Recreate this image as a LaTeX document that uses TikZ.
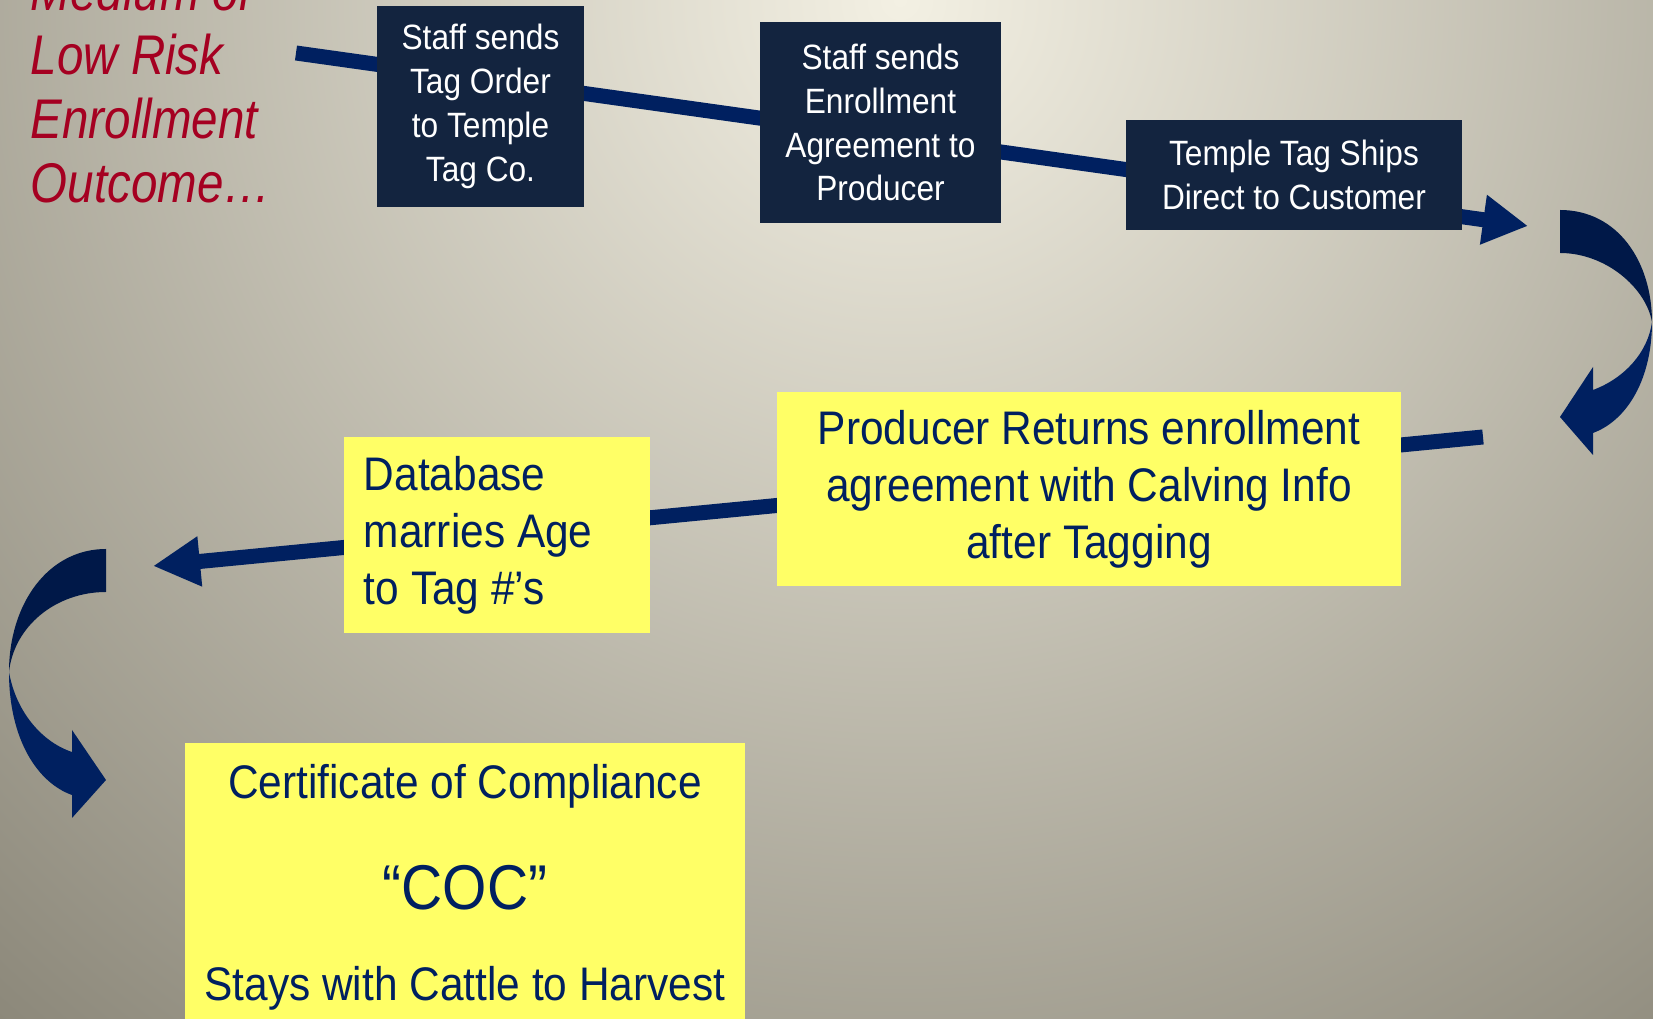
\documentclass[tikz,border=0pt]{standalone}
\usepackage{fontspec}
\usepackage{xcolor}
\usepackage{tikz}
\usetikzlibrary{arrows.meta}
\newfontfamily\slidefont[FakeStretch=0.9]{Liberation Sans}
\newfontfamily\headfont[FakeStretch=0.85]{Liberation Sans}
\definecolor{bglight}{RGB}{243,240,227}
\definecolor{bgdark}{RGB}{137,133,119}
\definecolor{boxnavy}{HTML}{13243F}
\definecolor{flownavy}{HTML}{002060}
\definecolor{flowdark}{HTML}{001848}
\definecolor{noteyellow}{HTML}{FFFF66}
\definecolor{headred}{HTML}{A50021}

\begin{document}
\begin{tikzpicture}[x=0.01cm,y=-0.01cm]
\tikzstyle{darkbox}=[fill=boxnavy, text=white, align=center, inner sep=0pt, font=\slidefont\fontsize{10}{12.5}\selectfont]
\tikzstyle{notebox}=[fill=noteyellow, text=flownavy, inner sep=0pt, font=\slidefont\fontsize{13.4}{16.2}\selectfont]
\tikzstyle{flow}=[line width=0.15cm, flownavy]
\useasboundingbox (0,0) rectangle (1653,1019);
\begin{scope}
\clip (0,0) rectangle (1653,1019);
\shade[inner color=bglight, outer color=bgdark] (900,0) circle (14cm);
\end{scope}
\coordinate (topstart) at (296,53);
\coordinate (topend) at (1528,226);
\coordinate (midstart) at (1483,437);
\coordinate (midend) at (153,566);
\draw [flow, ->, >={Triangle[length=0.45cm,width=0.47cm]}] (topstart) -- (topend);
\draw [flow, ->, >={Triangle[length=0.47cm,width=0.47cm]}] (midstart) -- (midend);
\node [font=\headfont\itshape\fontsize{15.9}{18.2}\selectfont, text=headred, align=flush left, anchor=north west, inner sep=0pt] (outcome) at (30,-31) {Medium or\\Low Risk\\Enrollment\\Outcome…};
\node [darkbox, minimum width=2.07cm, minimum height=2.01cm] (tagorder) at (480.5,106.5) {Staff sends\\Tag Order\\to Temple\\Tag Co.};
\node [darkbox, minimum width=2.41cm, minimum height=2.01cm] (agreement) at (880.5,122.5) {Staff sends\\Enrollment\\Agreement to\\Producer};
\node [darkbox, minimum width=3.36cm, minimum height=1.10cm] (ships) at (1294,175) {Temple Tag Ships\\Direct to Customer};
\node [notebox, align=center, minimum width=6.24cm, minimum height=1.94cm] (returns) at (1089,489) {Producer Returns enrollment\\agreement with Calving Info\\after Tagging};
\node [notebox, align=flush left, text width=2.66cm, inner xsep=0.2cm, minimum height=1.96cm] (database) at (497,535) {Database\\marries Age\\to Tag \#’s};
\node [notebox, align=center, minimum width=5.6cm, inner ysep=2.2mm, anchor=north] (coc) at (465,742) {Certificate of Compliance\\[15.4pt]{\fontsize{18}{21.6}\selectfont “COC”}\\[9.4pt]Stays with Cattle to Harvest};
\fill [flowdark] (1560,210) .. controls (1618,210) and (1652,262) .. (1652,322) .. controls (1646,288) and (1606,253) .. (1560,253) -- cycle;
\fill [flownavy] (1652,322) .. controls (1652,378) and (1628,420) .. (1593,433) -- (1593,455) -- (1560,417) -- (1593,367) -- (1593,390) .. controls (1625,378) and (1648,352) .. (1652,322) -- cycle;
\fill [flowdark] (106,549) .. controls (48,549) and (9,604) .. (9,672) .. controls (14,626) and (56,592) .. (106,592) -- cycle;
\fill [flownavy] (9,672) .. controls (9,740) and (38,783) .. (72,795) -- (72,818) -- (106,780) -- (72,730) -- (72,752) .. controls (42,742) and (16,712) .. (9,672) -- cycle;
\end{tikzpicture}
\end{document}
